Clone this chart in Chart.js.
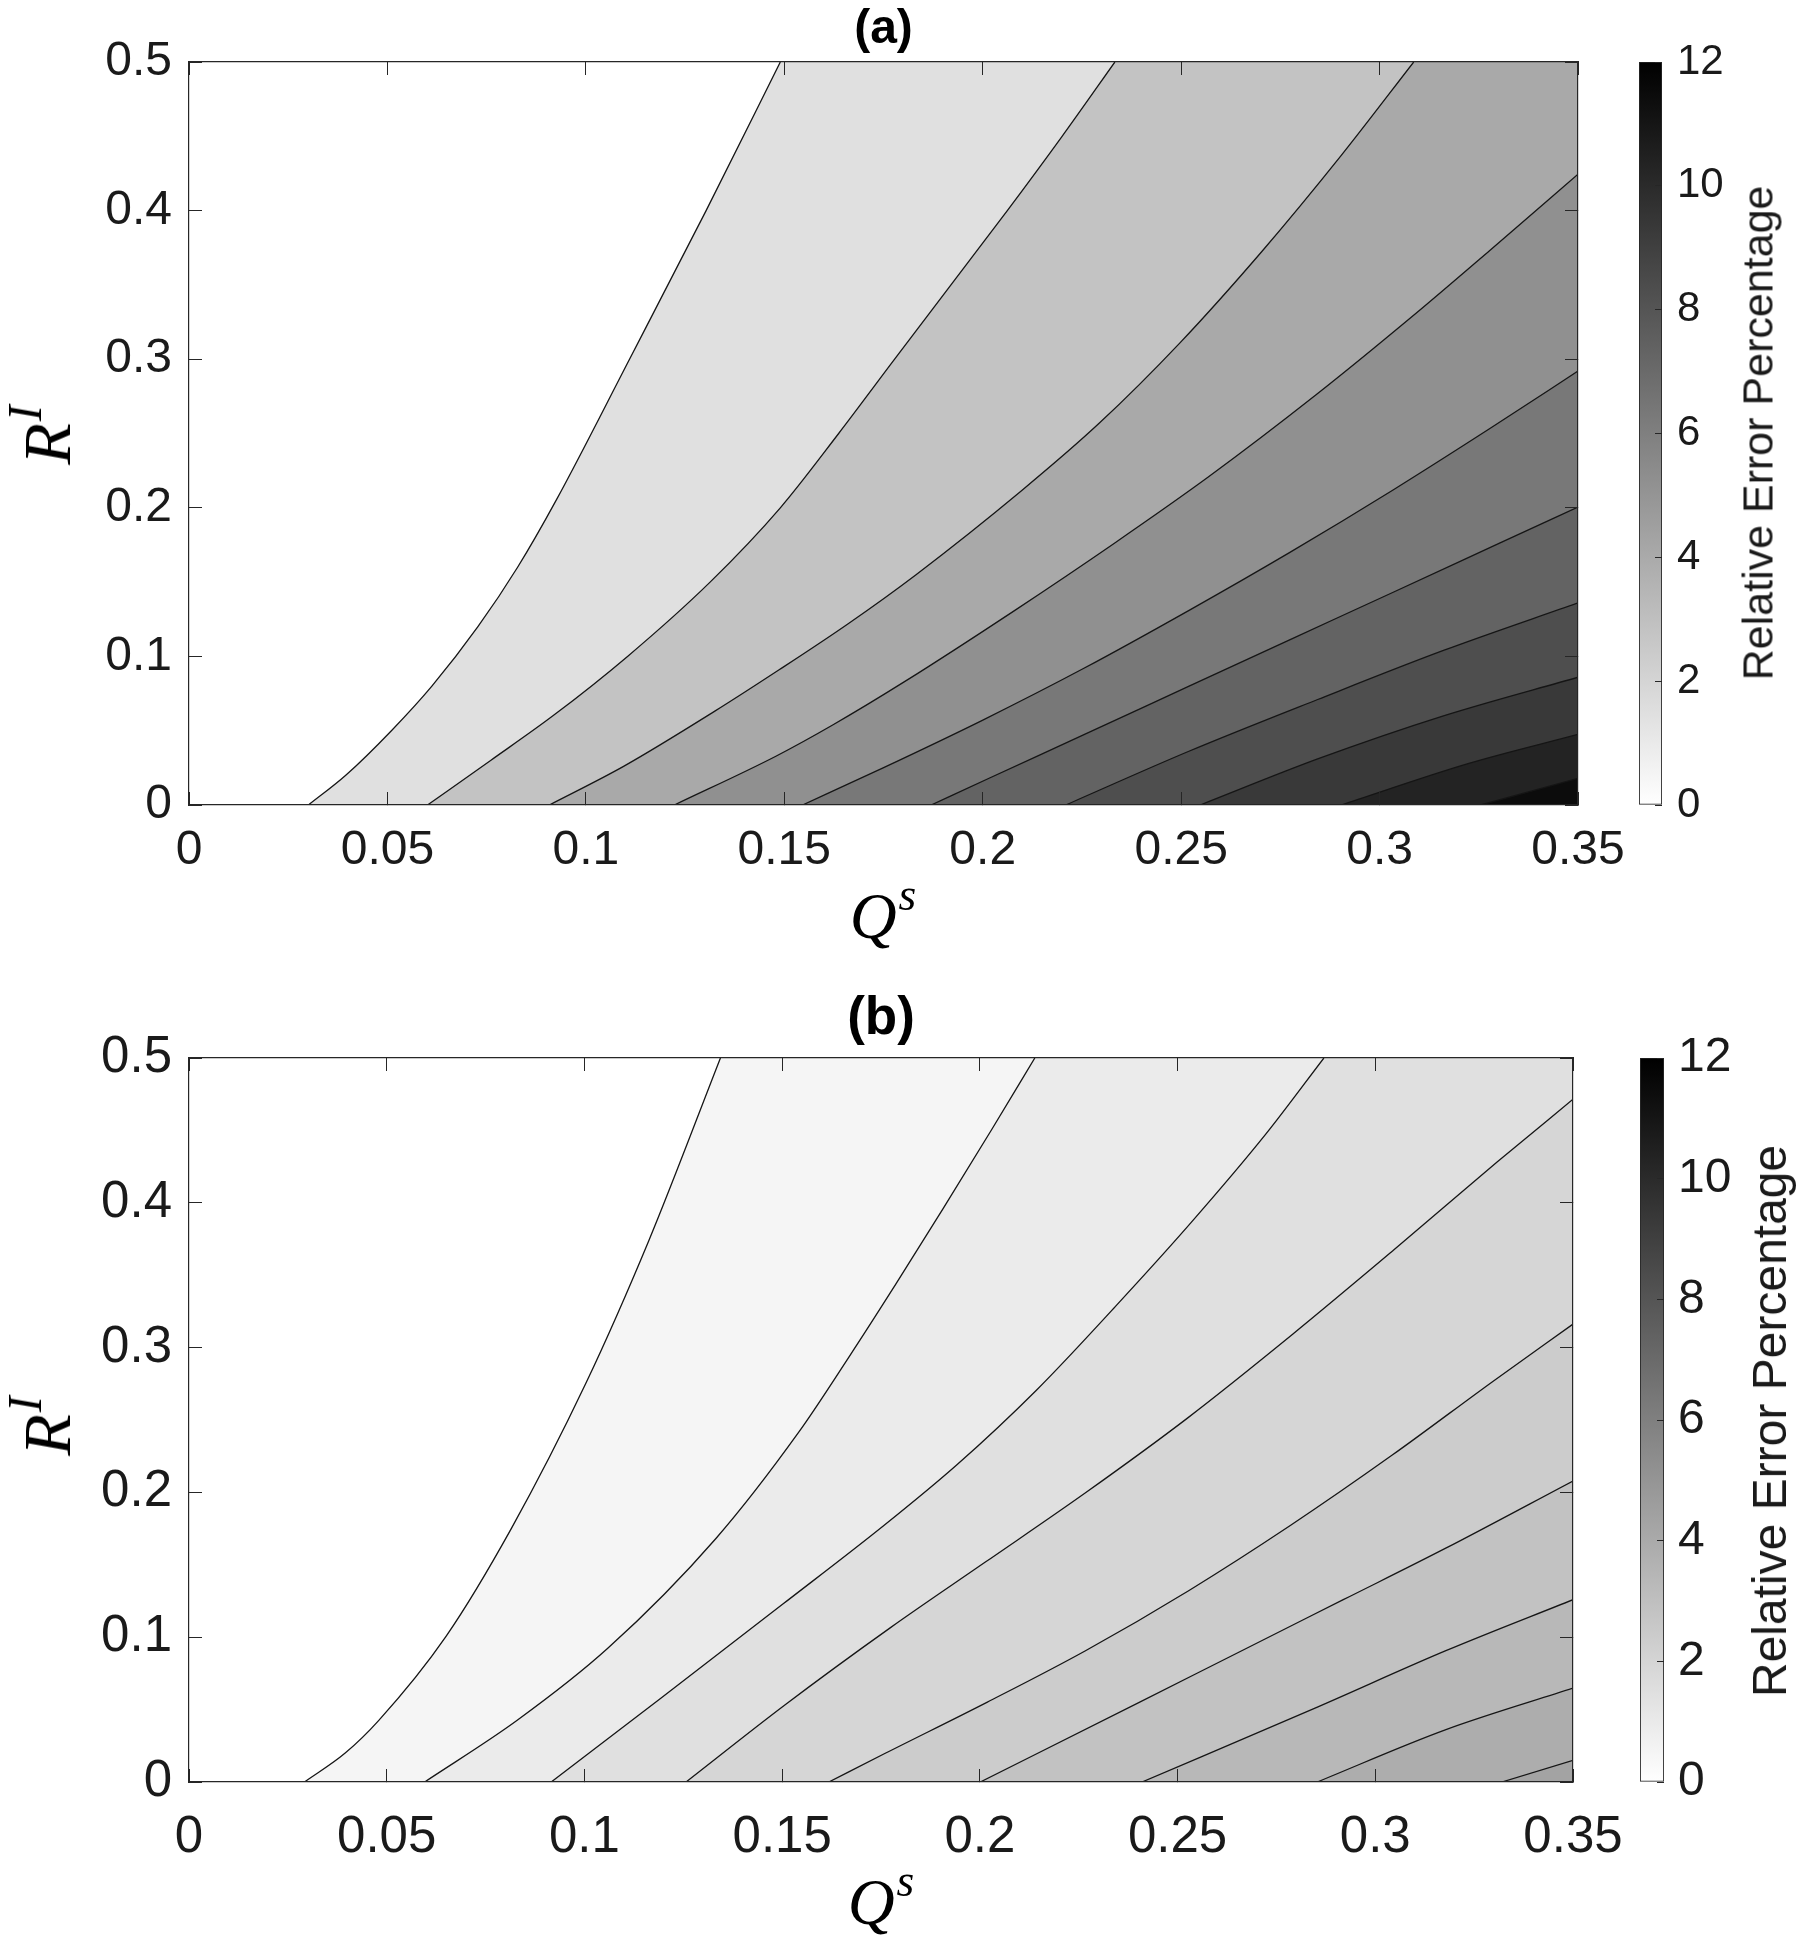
<!DOCTYPE html>
<html>
<head>
<meta charset="utf-8">
<script src="https://cdn.jsdelivr.net/npm/chart.js"></script>
<style>
html,body{margin:0;padding:0;background:#fff;}
#wrap{position:relative;width:1800px;height:1941px;overflow:hidden;background:#fff;}
canvas{position:absolute;}
.math{position:absolute;font-family:"Liberation Serif","DejaVu Serif",serif;font-style:italic;color:#000;white-space:nowrap;line-height:1;}
.math .sup{font-size:0.7em;position:relative;top:-0.62em;margin-left:0.04em;}
.rot{transform:translate(-50%,-50%) rotate(-90deg);}
.hc{transform:translateX(-50%);}
.cbt{position:absolute;font-family:"Liberation Sans",Arial,sans-serif;color:#1a1a1a;white-space:nowrap;line-height:1;}
</style>
</head>
<body>
<div id="wrap">
  <canvas id="mainA" width="1800" height="900" style="left:0;top:0"></canvas>
  <canvas id="cbarA" width="200" height="900" style="left:1600px;top:0"></canvas>
  <canvas id="mainB" width="1800" height="961" style="left:0;top:980px"></canvas>
  <canvas id="cbarB" width="200" height="961" style="left:1600px;top:980px"></canvas>

  <div class="math rot" style="left:47px;top:435px;font-size:68px">R<span class="sup">I</span></div>
  <div class="math hc" style="left:883px;top:884px;font-size:65px">Q<span class="sup">s</span></div>
  <div class="cbt rot" style="left:1758px;top:433px;font-size:43px">Relative Error Percentage</div>

  <div class="math rot" style="left:47px;top:1426px;font-size:68px">R<span class="sup">I</span></div>
  <div class="math hc" style="left:881px;top:1870px;font-size:65px">Q<span class="sup">s</span></div>
  <div class="cbt rot" style="left:1770px;top:1421px;font-size:48px">Relative Error Percentage</div>
</div>
<script>
// ---------------- data ----------------
const Q_MIN = 0, Q_MAX = 0.35;
const R_MIN = 0, R_MAX = 0.5;
const qTicks = [0, 0.05, 0.1, 0.15, 0.2, 0.25, 0.3, 0.35];
const qTickLabels = ['0', '0.05', '0.1', '0.15', '0.2', '0.25', '0.3', '0.35'];
const rTicks = [0, 0.1, 0.2, 0.3, 0.4, 0.5];
const rTickLabels = ['0', '0.1', '0.2', '0.3', '0.4', '0.5'];
const cbarRange = [0, 12];
const cbarTicks = [0, 2, 4, 6, 8, 10, 12];
const cbarTickLabels = ['0', '2', '4', '6', '8', '10', '12'];

// panel (a): contour lines as [Q^s, R^I] pairs, from low to high error level
const contourA1 = [[0.0301,0],[0.0395,0.02],[0.0510,0.05],[0.0612,0.08],[0.0728,0.12],[0.0828,0.16],[0.0925,0.205],[0.1110,0.30],[0.1303,0.40],[0.149,0.5]];
const contourA2 = [[0.0601,0],[0.0760,0.03],[0.0917,0.06],[0.1105,0.10],[0.1313,0.15],[0.1490,0.20],[0.1637,0.25],[0.1778,0.30],[0.1920,0.35],[0.2062,0.40],[0.2200,0.45],[0.2333,0.5]];
const contourA3 = [[0.0908,0],[0.1095,0.026],[0.1324,0.063],[0.1487,0.091],[0.1661,0.122],[0.1832,0.155],[0.2100,0.212],[0.2294,0.257],[0.2497,0.311],[0.2705,0.373],[0.2903,0.437],[0.3086,0.5]];
const contourA4 = [[0.1223,0],[0.1480,0.033],[0.1623,0.054],[0.1803,0.083],[0.2081,0.131],[0.2331,0.176],[0.2570,0.221],[0.2840,0.276],[0.3079,0.328],[0.3277,0.373],[0.35,0.4245]];
const contourA5 = [[0.1546,0],[0.1749,0.025],[0.1999,0.057],[0.2255,0.092],[0.2520,0.131],[0.2774,0.170],[0.3034,0.212],[0.3276,0.253],[0.35,0.292]];
const contourA6 = [[0.187,0],[0.2016,0.018],[0.2277,0.050],[0.2520,0.080],[0.2772,0.111],[0.3033,0.143],[0.3301,0.176],[0.35,0.2005]];
const contourA7 = [[0.2209,0],[0.2518,0.036],[0.2844,0.071],[0.3161,0.104],[0.35,0.136]];
const contourA8 = [[0.2548,0],[0.2844,0.031],[0.3161,0.060],[0.35,0.086]];
const contourA9 = [[0.2903,0],[0.3225,0.028],[0.35,0.0475]];
const contourA10 = [[0.3255,0],[0.35,0.018]];

// panel (b)
const contourB1 = [[0.0292,0],[0.0395,0.02],[0.048,0.0426],[0.065,0.1006],[0.0815,0.175],[0.1003,0.275],[0.1163,0.374],[0.1344,0.5]];
const contourB2 = [[0.0596,0],[0.0830,0.0426],[0.1059,0.0923],[0.1332,0.168],[0.1542,0.2416],[0.1668,0.2931],[0.1789,0.3445],[0.1907,0.396],[0.2030,0.4506],[0.2139,0.5]];
const contourB3 = [[0.0916,0],[0.1194,0.058],[0.1501,0.1227],[0.1758,0.1773],[0.1942,0.2191],[0.2143,0.2706],[0.2343,0.3285],[0.2534,0.3863],[0.2723,0.4474],[0.2870,0.5]];
const contourB4 = [[0.1257,0],[0.1506,0.053],[0.1774,0.1066],[0.2013,0.1517],[0.2268,0.1999],[0.2525,0.2513],[0.2791,0.3092],[0.3045,0.367],[0.3308,0.4281],[0.35,0.4715]];
const contourB5 = [[0.1618,0],[0.1762,0.02],[0.2019,0.0552],[0.2266,0.0905],[0.2529,0.1323],[0.2786,0.1773],[0.3042,0.2256],[0.3299,0.277],[0.35,0.3162]];
const contourB6 = [[0.2001,0],[0.2403,0.055],[0.2661,0.0905],[0.2919,0.1259],[0.3177,0.1613],[0.35,0.2079]];
const contourB7 = [[0.241,0],[0.2855,0.0519],[0.3177,0.0905],[0.35,0.1259]];
const contourB8 = [[0.2853,0],[0.3177,0.036],[0.35,0.0648]];
const contourB9 = [[0.332,0],[0.35,0.015]];

const contoursA = [contourA1, contourA2, contourA3, contourA4, contourA5, contourA6, contourA7, contourA8, contourA9, contourA10];
const contoursB = [contourB1, contourB2, contourB3, contourB4, contourB5, contourB6, contourB7, contourB8, contourB9];

// ---------------- styles ----------------
const bandGrayA = [224, 195, 169, 144, 120, 99, 78, 57, 35, 12];
const bandGrayB = [245, 235, 224, 214, 204, 194, 184, 173, 163];
const AXIS_COLOR = '#262626';
const FONT = '"Liberation Sans", Arial, Helvetica, sans-serif';
const SEAM_OVERLAP = 0.0003; // ~1 px overlap so adjacent fills of one band leave no hairline

function gray(v) { return 'rgb(' + v + ',' + v + ',' + v + ')'; }

function buildDatasets(contours, grays) {
  const ds = [];
  // darkest band first: the filler paints the last dataset first
  for (let k = contours.length - 1; k >= 0; k--) {
    const pts = contours[k].map(p => ({x: p[0], y: p[1]}));
    const col = gray(grays[k]);
    ds.push({
      data: pts, borderColor: '#151515', borderWidth: 1.3, backgroundColor: col,
      fill: 'start', cubicInterpolationMode: 'monotone', pointRadius: 0, pointHoverRadius: 0
    });
    const last = pts[pts.length - 1];
    if (last.y >= R_MAX && last.x < Q_MAX) {
      // the band continues along the top edge up to the right edge
      ds.push({
        data: [{x: last.x - SEAM_OVERLAP, y: R_MAX}, {x: Q_MAX, y: R_MAX}], borderWidth: 0,
        borderColor: 'rgba(0,0,0,0)', backgroundColor: col, fill: 'start', pointRadius: 0, pointHoverRadius: 0
      });
    }
  }
  return ds;
}

function setTicks(values) {
  return function (scale) { scale.ticks = values.map(v => ({value: v})); };
}

function mainChart(id, contours, grays, L) {
  const tickGrid = {drawOnChartArea: false, drawTicks: true, tickLength: -13, color: AXIS_COLOR, lineWidth: 1, z: 1};
  const border = {display: true, color: AXIS_COLOR, width: 1.2, z: 1};
  return new Chart(document.getElementById(id), {
    type: 'line',
    data: {datasets: buildDatasets(contours, grays)},
    options: {
      responsive: false, animation: false, devicePixelRatio: 1,
      layout: {padding: 0},
      plugins: {legend: {display: false}, tooltip: {enabled: false}, title: {display: false}},
      scales: {
        x: {
          type: 'linear', position: 'bottom', min: Q_MIN, max: Q_MAX,
          afterBuildTicks: setTicks(qTicks), afterFit: s => { s.height = L.bottomH; },
          grid: tickGrid, border: border,
          ticks: {color: '#1a1a1a', font: {family: FONT, size: L.tickSize}, padding: L.xPad,
                  maxRotation: 0, autoSkip: false, callback: (v, i) => qTickLabels[i]}
        },
        x2: {
          type: 'linear', position: 'top', min: Q_MIN, max: Q_MAX,
          afterBuildTicks: setTicks(qTicks), afterFit: s => { s.height = L.topH; },
          grid: tickGrid, border: border,
          ticks: {padding: 0, autoSkip: false, callback: () => ''},
          title: {display: true, text: L.title, color: '#000',
                  font: {family: FONT, size: L.titleSize, weight: 'bold', lineHeight: 1},
                  padding: {top: L.titlePad, bottom: 0}}
        },
        y: {
          type: 'linear', position: 'left', min: R_MIN, max: R_MAX,
          afterBuildTicks: setTicks(rTicks), afterFit: s => { s.width = L.leftW; },
          grid: tickGrid, border: border,
          ticks: {color: '#1a1a1a', font: {family: FONT, size: L.tickSize}, padding: 30,
                  autoSkip: false, callback: (v, i) => rTickLabels[i]}
        },
        y2: {
          type: 'linear', position: 'right', min: R_MIN, max: R_MAX,
          afterBuildTicks: setTicks(rTicks), afterFit: s => { s.width = L.rightW; },
          grid: tickGrid, border: border,
          ticks: {padding: 0, autoSkip: false, callback: () => ''}
        }
      }
    }
  });
}

function colorbar(id, L) {
  return new Chart(document.getElementById(id), {
    type: 'bar',
    data: {
      labels: [''],
      datasets: [{
        data: [cbarRange],
        backgroundColor: c => {
          const a = c.chart.chartArea;
          if (!a) return '#888';
          const g = c.chart.ctx.createLinearGradient(0, a.bottom, 0, a.top);
          g.addColorStop(0, '#ffffff');
          g.addColorStop(1, '#000000');
          return g;
        },
        borderColor: AXIS_COLOR, borderWidth: 1.2, borderSkipped: false,
        barPercentage: 1, categoryPercentage: 1
      }]
    },
    options: {
      responsive: false, animation: false, devicePixelRatio: 1,
      layout: {padding: {left: L.padL, top: L.padT, bottom: L.padB, right: 0}},
      plugins: {legend: {display: false}, tooltip: {enabled: false}},
      scales: {
        x: {display: false},
        y: {
          position: 'right', min: cbarRange[0], max: cbarRange[1],
          afterBuildTicks: setTicks(cbarTicks), afterFit: s => { s.width = L.axisW; },
          grid: {drawOnChartArea: false, drawTicks: true, tickLength: -7, color: AXIS_COLOR, lineWidth: 1, z: 1},
          border: {display: false},
          ticks: {color: '#1a1a1a', font: {family: FONT, size: L.tickSize}, padding: L.tickPad,
                  autoSkip: false, callback: (v, i) => cbarTickLabels[i]}
        }
      }
    }
  });
}

// panel (a): plot area x 189..1578, y 62..805
mainChart('mainA', contoursA, bandGrayA, {
  title: '(a)', titleSize: 48, titlePad: 6, tickSize: 48,
  leftW: 189, rightW: 1800 - 1578, topH: 62, bottomH: 900 - 805, xPad: 30
});
colorbar('cbarA', {padL: 39, padT: 62, padB: 900 - 805, axisW: 200 - 62, tickSize: 42, tickPad: 22});

// panel (b): plot area x 189..1573, y 1058..1782 (canvas top 980)
mainChart('mainB', contoursB, bandGrayB, {
  title: '(b)', titleSize: 53, titlePad: 13, tickSize: 51,
  leftW: 189, rightW: 1800 - 1573, topH: 1058 - 980, bottomH: 1941 - 1782, xPad: 38
});
colorbar('cbarB', {padL: 40, padT: 1058 - 980, padB: 1941 - 1782, axisW: 200 - 64, tickSize: 48, tickPad: 21});
</script>
</body>
</html>
